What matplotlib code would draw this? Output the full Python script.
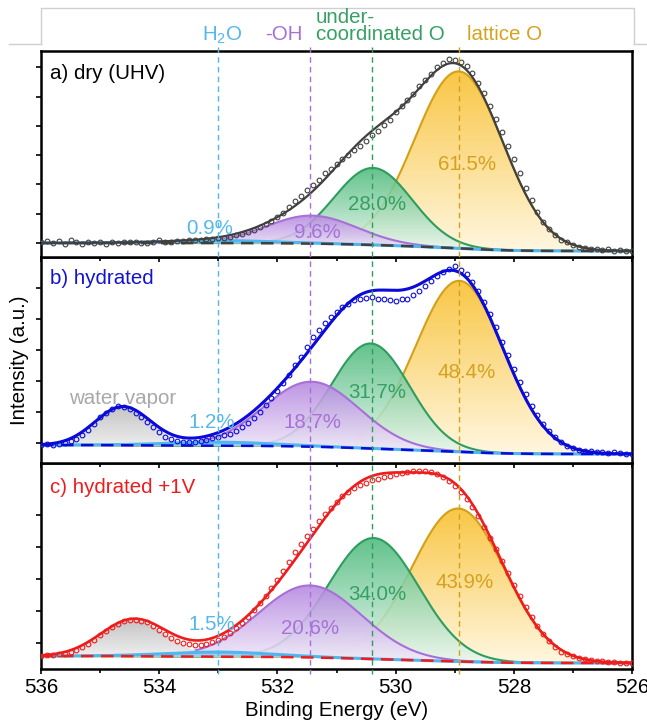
import numpy as np
import matplotlib.pyplot as plt
from matplotlib.lines import Line2D
from matplotlib.colors import to_rgb
from matplotlib.transforms import blended_transform_factory

plt.rcParams['font.family'] = ['Liberation Sans', 'DejaVu Sans']
plt.rcParams['mathtext.default'] = 'regular'

# measured O 1s spectra, 536 -> 526 eV in 0.1 eV steps (a.u., panel units)
energy = np.round(np.arange(536.0, 525.95, -0.1), 1)

dry_counts = [1, 2, 0, 2, -1, 3, 1, -1, 1, 0, 1, -1, 1, 0, 1, 1, 1, 0, 0, 1,
              3, 1, 1, 2, 2, 3, 3, 3, 4, 4, 5, 5, 6, 8, 9, 11, 13, 16, 19, 22,
              26, 30, 36, 42, 47, 53, 58, 63, 70, 74, 79, 84, 88, 93, 97, 102, 108, 112, 118, 123,
              131, 137, 143, 149, 157, 163, 169, 176, 180, 184, 183, 181, 177, 170, 160, 150, 137, 124, 111, 97,
              84, 70, 55, 43, 31, 21, 14, 8, 3, 1, -2, -4, -5, -6, -6, -7, -6, -8, -7, -8, -8]

hyd_counts = [-2, -1, -2, -1, 0, 2, 4, 8, 13, 19, 26, 30, 34, 37, 36, 34, 30, 26, 21, 16,
              11, 6, 4, 2, 1, 1, 1, 2, 3, 5, 6, 8, 9, 12, 16, 20, 25, 31, 38, 45,
              52, 60, 68, 78, 86, 96, 106, 113, 120, 126, 131, 136, 139, 143, 144, 145, 146, 144, 144, 143,
              142, 144, 144, 148, 152, 157, 162, 167, 171, 174, 177, 173, 169, 161, 152, 141, 129, 116, 101, 88,
              74, 61, 49, 37, 28, 19, 12, 6, 1, -3, -5, -7, -8, -8, -9, -9, -10, -9, -10, -11, -11]

bias_counts = [-13, -12, -12, -11, -11, -9, -7, -4, -1, 3, 8, 12, 16, 19, 22, 23, 23, 22, 21, 17,
               13, 9, 5, 2, 0, -1, -2, -2, -1, 1, 3, 6, 10, 15, 20, 26, 33, 40, 47, 55,
               63, 72, 81, 91, 99, 107, 114, 122, 129, 135, 141, 147, 151, 155, 158, 160, 163, 164, 166, 167,
               169, 170, 171, 172, 172, 172, 171, 169, 166, 162, 157, 151, 144, 136, 127, 116, 105, 94, 82, 70,
               58, 47, 36, 26, 17, 9, 2, -4, -9, -11, -13, -15, -16, -17, -18, -18, -19, -19, -20, -20, -20]

# fitted components: H2O, -OH, under-coordinated O, lattice O  (centre eV, FWHM eV, height)
guide_centres = [533.0, 531.45, 530.4, 528.93]
dry_centre = [533.0, 531.42, 530.38, 528.93]
dry_fwhm = [2.2, 1.8, 1.55, 1.76]
dry_height = [2.5, 28, 77, 177]
hyd_centre = [533.0, 531.42, 530.42, 528.92]
hyd_fwhm = [2.2, 1.9, 1.55, 1.75]
hyd_height = [3.5, 65, 105, 171]
bias_centre = [533.0, 531.45, 530.37, 528.94]
bias_fwhm = [2.2, 2.05, 1.8, 1.85]
bias_height = [4.5, 72, 121, 153]
# water vapor gas phase peak (centre, FWHM, height)
hyd_vapor = [534.62, 1.1, 38]
bias_vapor = [534.44, 1.3, 36]
# Shirley background end points (536 eV side, 526 eV side)
dry_bg = [0, -8]
hyd_bg = [-2, -11]
bias_bg = [-13, -20]

dry_pct = ['0.9%', '9.6%', '28.0%', '61.5%']
hyd_pct = ['1.2%', '18.7%', '31.7%', '48.4%']
bias_pct = ['1.5%', '20.6%', '34.0%', '43.9%']

comp_labels = ['H$_2$O', '-OH', 'under-\ncoordinated O', 'lattice O']
line_cols = ['#4fb6ee', '#a86fd8', '#2e9d5d', '#d3a017']
text_cols = ['#55b8ec', '#a672d8', '#36a064', '#d6a21e']
fill_top = ['#8fd0f4', '#b486e0', '#4dba7c', '#f9bf2c']
fill_bot = ['#d4eefb', '#f3ecfa', '#eaf7ef', '#fff6dc']

fs = 14.8
x = np.linspace(536, 526, 801)


def gauss(xx, c, w, h):
    s = w / 2.3548
    return h * np.exp(-0.5 * ((xx - c) / s) ** 2)


def grad_fill(ax, lo, hi, top, bot, z, alpha=0.88):
    poly = ax.fill_between(x, lo, hi, facecolor='none', edgecolor='none', zorder=z)
    n = 256
    c0, c1 = np.array(to_rgb(bot)), np.array(to_rgb(top))
    t = np.linspace(0, 1, n)[:, None]
    img = np.ones((n, 1, 4))
    img[:, 0, :3] = c0 + (c1 - c0) * t
    img[:, 0, 3] = alpha
    im = ax.imshow(img, extent=[536, 526, lo.min(), hi.max()], origin='lower',
                   aspect='auto', zorder=z, interpolation='bilinear')
    im.set_clip_path(poly.get_paths()[0], transform=ax.transData)


def draw_panel(ax, counts, centre, fwhm, height, bg_ends, vapor, colour, lw, pct, pct_pos):
    peaks = [gauss(x, c, w, h) for c, w, h in zip(centre, fwhm, height)]
    total = sum(peaks)
    if vapor is not None:
        vap = gauss(x, *vapor)
        total = total + vap
    cum = np.cumsum(total[::-1])[::-1]
    bg = bg_ends[1] + (bg_ends[0] - bg_ends[1]) * cum / cum[0]

    # lattice, under-coordinated, OH drawn back to front
    for i, z in zip([3, 2, 1], [2.0, 2.2, 2.4]):
        grad_fill(ax, bg, bg + peaks[i], fill_top[i], fill_bot[i], z)
        ax.plot(x, bg + peaks[i], color=line_cols[i], lw=1.5, zorder=z + 0.1)
    if vapor is not None:
        grad_fill(ax, bg, bg + vap, '#c2c2c2', '#f6f6f6', 2.6, alpha=0.95)
    ax.fill_between(x, bg, bg + peaks[0], color=fill_top[0], lw=0, zorder=2.7)
    ax.plot(x, bg + peaks[0], color=line_cols[0], lw=2.2, zorder=2.8)
    ax.plot(x, bg, color=colour, lw=1.8, ls=(0, (5, 3)), zorder=3)
    ax.plot(x, bg + total, color=colour, lw=lw, zorder=3.5)
    ax.plot(energy, counts, 'o', mfc='none', mec=colour, ms=3.4, mew=0.8, zorder=4)

    for k in range(4):
        ax.text(pct_pos[k][0], pct_pos[k][1], pct[k], color=text_cols[k], fontsize=fs,
                ha='center', va='center', zorder=5)


fig = plt.figure(figsize=(6.47, 7.25), dpi=100)
W, H = 647, 725
left, width = 41 / W, 591 / W
tops = [51, 257, 463]
axes = []
for k, tp in enumerate(tops):
    ax = fig.add_axes([left, 1 - (tp + 206) / H, width, 206 / H])
    ax.set_zorder(3 - k)
    axes.append(ax)
ax_a, ax_b, ax_c = axes

draw_panel(ax_a, dry_counts, dry_centre, dry_fwhm, dry_height, dry_bg, None, '#404040', 1.6,
           dry_pct, [(533.14, 15), (531.33, 10), (530.31, 38), (528.79, 78)])
draw_panel(ax_b, hyd_counts, hyd_centre, hyd_fwhm, hyd_height, hyd_bg, hyd_vapor, '#0b0bd9', 2.2,
           hyd_pct, [(533.11, 21), (531.41, 21), (530.31, 50), (528.79, 71)])
draw_panel(ax_c, bias_counts, bias_centre, bias_fwhm, bias_height, bias_bg, bias_vapor, '#ee1c1c', 1.9,
           bias_pct, [(533.11, 18), (531.45, 15), (530.31, 48), (528.83, 61)])

ax_b.text(534.61, 45, 'water vapor', color='#a8a8a8', fontsize=fs, ha='center', va='center', zorder=5)

ylims = [(-14, 192), (-20, 186), (-26, 180)]
yticks = [np.arange(7) * 29.3, np.arange(6) * 31, np.arange(5) * 32]
for ax, yl, yt in zip(axes, ylims, yticks):
    ax.set_xlim(536, 526)
    ax.set_ylim(*yl)
    ax.set_yticks(yt)
    ax.set_xticks(np.arange(526, 537, 2))
    ax.set_xticks(np.arange(527, 536, 2), minor=True)
    ax.tick_params(axis='y', direction='out', length=3.6, width=1.2, labelleft=False)
    ax.tick_params(axis='x', which='major', direction='out', length=3.8, width=1.2, labelbottom=False)
    ax.tick_params(axis='x', which='minor', direction='out', length=2.6, width=1.2)
    for sp in ax.spines.values():
        sp.set_linewidth(1.8)

ax_c.tick_params(axis='x', labelbottom=True, labelsize=fs, pad=2.5)
ax_c.set_xticklabels([str(v) for v in np.arange(526, 537, 2)])
ax_c.set_xlabel('Binding Energy (eV)', fontsize=fs, labelpad=3)

ax_a.text(0.015, 0.893, 'a) dry (UHV)', transform=ax_a.transAxes, fontsize=fs, color='black', va='center')
ax_b.text(0.015, 0.898, 'b) hydrated', transform=ax_b.transAxes, fontsize=fs, color='#1212d0', va='center')
ax_c.text(0.015, 0.883, 'c) hydrated +1V', transform=ax_c.transAxes, fontsize=fs, color='#ee1c1c', va='center')

fig.text(20 / W, 1 - 360 / H, 'Intensity (a.u.)', rotation=90, fontsize=fs, ha='center', va='center')

# vertical guide lines running through all panels
tr = blended_transform_factory(ax_c.transData, fig.transFigure)
for c, col in zip(guide_centres, line_cols):
    fig.add_artist(Line2D([c, c], [1 - 47 / H, 1 - 674 / H], transform=tr, color=col,
                          lw=1.0, ls=(0, (4, 3)), zorder=10))

# component labels above the plot
fig.text(222 / W, 1 - 35 / H, comp_labels[0], color=text_cols[0], fontsize=fs, ha='center', va='center')
fig.text(284 / W, 1 - 35 / H, comp_labels[1], color=text_cols[1], fontsize=fs, ha='center', va='center')
fig.text(316 / W, 1 - 26 / H, comp_labels[2], color=text_cols[2], fontsize=fs, ha='left', va='center',
         linespacing=0.9)
fig.text(505 / W, 1 - 35 / H, comp_labels[3], color=text_cols[3], fontsize=fs, ha='center', va='center')

# light frame around the label strip
frame = '#cfcfcf'
for xs, ys in [([41, 41, 634, 634], [44, 8, 8, 44]), ([9, 41], [44, 44]), ([634, 647], [44, 44])]:
    fig.add_artist(Line2D(np.array(xs) / W, 1 - np.array(ys) / H, color=frame, lw=1.0,
                          transform=fig.transFigure, zorder=0))

fig.savefig('out.png', dpi=100)
